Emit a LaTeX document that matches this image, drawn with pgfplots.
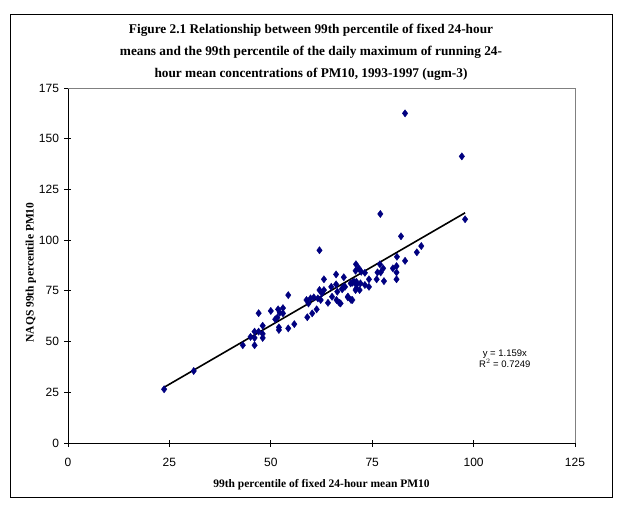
\documentclass[border=0pt]{standalone}
\usepackage{pgfplots}
\pgfplotsset{compat=1.18}
\usepackage{fontspec}
\setmainfont{Liberation Serif}
\newfontfamily\arialf{Liberation Sans}
\definecolor{navy}{RGB}{0,0,128}
\begin{document}
\begin{tikzpicture}[x=1pt,y=1pt]
\path[fill=white] (0,0) rectangle (624,515);
\draw[black, line width=0.9pt] (10,18) rectangle (612,501);
\node[align=center, font=\bfseries\fontsize{13.3}{22}\selectfont] at (311,463) {Figure 2.1 Relationship between 99th percentile of fixed 24-hour\\means and the 99th percentile of the daily maximum of running 24-\\hour mean concentrations of PM10, 1993-1997 (ugm-3)};
\begin{axis}[
  at={(68pt,72pt)}, anchor=south west,
  scale only axis, width=507pt, height=355pt,
  xmin=0, xmax=125, ymin=0, ymax=175,
  xtick={0,25,50,75,100,125}, ytick={0,25,50,75,100,125,150,175},
  axis x line*=bottom, axis y line*=left,
  axis line style={black, line width=0.8pt},
  tick align=center, major tick length=7pt,
  tick style={black, line width=0.8pt},
  /pgf/number format/assume math mode=true,
  ticklabel style={font=\arialf\fontsize{12}{14}\selectfont},
  xticklabel style={yshift=-8pt},
  yticklabel style={xshift=-2pt},
  xlabel={\bfseries\fontsize{11.5}{13}\selectfont 99th percentile of fixed 24-hour mean PM10},
  ylabel={\bfseries\fontsize{11.5}{13}\selectfont NAQS 99th percentile PM10},
  xlabel style={yshift=-6pt},
  ylabel style={yshift=-4pt, xshift=-7pt},
  clip=false,
]
\draw[gray, line width=0.8pt] (axis cs:0,175) -- (axis cs:125,175) -- (axis cs:125,0);
\addplot[only marks, mark=diamond*, mark size=3.6pt, mark options={fill=navy, draw=navy}] coordinates {
(23.7,26.5) (31.0,35.5) (43.1,48.2) (46.0,48.2) (45.0,52.3) (46.0,51.8) (48.0,51.8) (48.0,53.8)
(46.0,54.9) (47.0,54.9) (48.0,57.8) (47.0,64.0) (50.0,65.1) (51.8,65.9) (53.0,66.5) (52.2,64.2)
(53.0,63.9) (51.6,61.8) (51.1,61.0) (52.0,57.0) (52.0,55.7) (54.3,56.5) (55.8,58.6) (54.3,72.9)
(58.8,70.5) (59.8,71.3) (60.6,71.8) (61.6,71.3) (62.3,70.5) (59.3,68.8) (60.2,63.9) (59.0,62.0)
(61.3,65.9) (62.0,75.4) (63.1,75.4) (62.6,73.8) (64.1,69.1) (65.1,72.1) (64.9,77.0) (66.1,78.2)
(66.4,74.6) (66.9,69.1) (66.2,70.5) (67.6,76.2) (68.3,77.0) (69.0,71.8) (69.8,70.5) (69.7,78.7)
(70.5,79.5) (71.1,77.9) (70.9,75.4) (62.0,95.0) (71.0,88.1) (66.1,83.1) (68.0,81.7) (63.1,80.7)
(70.9,84.9) (71.7,86.1) (72.3,84.4) (73.2,83.9) (76.3,84.1) (77.1,84.1) (76.9,88.1) (77.7,86.1)
(80.1,86.1) (81.0,87.2) (81.0,84.1) (74.2,80.7) (76.1,80.7) (77.9,79.8) (81.0,80.7) (70.1,79.0)
(71.1,79.5) (72.1,78.7) (73.2,77.9) (74.2,77.0) (71.1,76.2) (71.9,75.4) (68.0,77.0) (67.6,75.8)
(69.0,72.2) (70.1,70.5) (67.2,68.8) (81.1,91.8) (83.1,89.8) (86.0,94.0) (87.1,97.1) (82.1,101.9)
(77.0,112.9) (83.1,162.5) (97.1,141.3) (97.9,110.3)
};
\addplot[black, line width=1.6pt] coordinates {(23.7,27.47) (97.9,113.47)};
\node[align=center, font=\arialf\fontsize{9.5}{11}\selectfont] at (axis cs:107.7,41.6) {y = 1.159x\\R$^{2}$ = 0.7249};
\end{axis}
\end{tikzpicture}
\end{document}
